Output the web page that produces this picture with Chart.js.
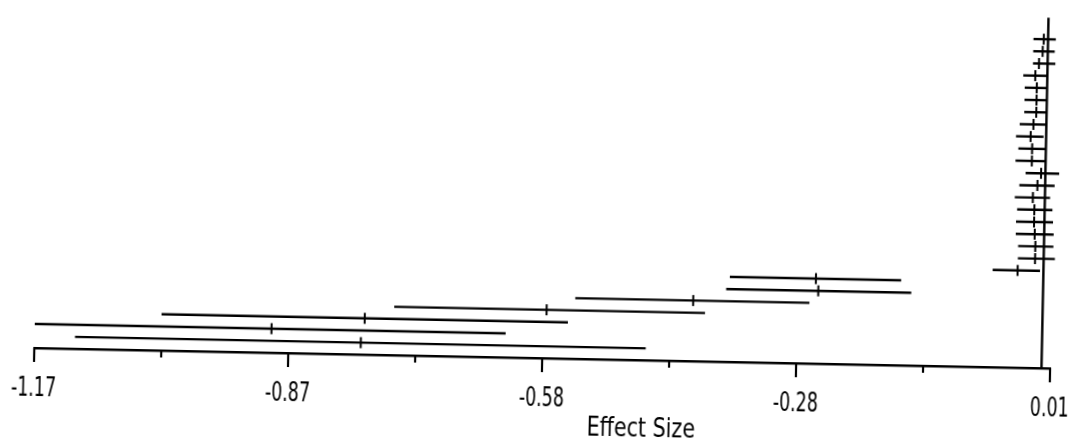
<!DOCTYPE html>
<html>
<head>
<meta charset="utf-8">
<script src="https://cdn.jsdelivr.net/npm/chart.js@4/dist/chart.umd.min.js"></script>
<style>
  html, body { margin: 0; padding: 0; background: #fff; overflow: hidden; }
  #sheet {
    position: relative;
    width: 1074px;
    height: 438px;
    transform: rotate(1.15deg);
    transform-origin: 537px 219px;
  }
  #chart { position: absolute; left: 0; top: 0; }
  #xTitle {
    position: absolute;
    left: 645px;
    top: 425px;
    transform: translate(-50%, -50%) scaleX(0.85);
    font-family: 'DejaVu Sans Condensed', sans-serif;
    font-size: 27px;
    color: #000;
    white-space: nowrap;
  }
</style>
</head>
<body>
<div id="sheet">
  <canvas id="chart" width="1074" height="438"></canvas>
  <div id="xTitle">Effect Size</div>
</div>
<script>
// one row per study, top to bottom
const rows = [1, 2, 3, 4, 5, 6, 7, 8, 9, 10, 11, 12, 13, 14, 15, 16, 17, 18, 19, 20, 21, 22, 23, 24, 25, 26, 27];
const effect = [
  -0.005, -0.006, -0.010, -0.014, -0.012, -0.012, -0.012, -0.015, -0.018, -0.016,
  -0.016, -0.005, -0.009, -0.014, -0.012, -0.012, -0.011, -0.010, -0.010, -0.030,
  -0.264, -0.261, -0.406, -0.576, -0.787, -0.895, -0.791
];
const lower = [
  -0.017, -0.017, -0.017, -0.028, -0.026, -0.026, -0.026, -0.031, -0.035, -0.032,
  -0.035, -0.023, -0.030, -0.035, -0.032, -0.033, -0.033, -0.030, -0.030, -0.059,
  -0.364, -0.368, -0.543, -0.753, -1.023, -1.170, -1.123
];
const upper = [
  0.009, 0.008, 0.009, 0.000, 0.000, 0.000, 0.000, 0.000, -0.003, 0.000,
  0.000, 0.016, 0.011, 0.006, 0.009, 0.010, 0.011, 0.011, 0.013, -0.004,
  -0.165, -0.153, -0.271, -0.392, -0.551, -0.623, -0.460
];
const tickValues = [-1.17, -1.0225, -0.875, -0.7275, -0.58, -0.4325, -0.285, -0.1375, 0.01];
const tickLabels = ['-1.17', '', '-0.87', '', '-0.58', '', '-0.28', '', '0.01'];

const ink = '#000';
const labelSqueeze = 0.72;
const rowTop = -0.77;
const rowBottom = 27.97;

const intervalSets = rows.map((row, i) => ({
  data: [{ x: lower[i], y: row }, { x: upper[i], y: row }],
  showLine: true,
  borderColor: ink,
  borderWidth: 2.4,
  pointRadius: 0,
  clip: false
}));

const zeroLine = {
  data: [{ x: 0, y: rowTop }, { x: 0, y: rowBottom }],
  showLine: true,
  borderColor: ink,
  borderWidth: 2.4,
  pointRadius: 0,
  clip: false
};

const estimateSet = {
  data: rows.map((row, i) => ({ x: effect[i], y: row })),
  pointStyle: 'line',
  rotation: 90,
  pointRadius: 5.5,
  borderColor: ink,
  borderWidth: 2,
  clip: false
};

// tick marks hang below the axis: long ones under labels, short ones between
const axisTicks = {
  id: 'axisTicks',
  afterDraw(chart) {
    const { ctx, chartArea, scales: { x } } = chart;
    ctx.save();
    ctx.strokeStyle = ink;
    ctx.lineWidth = 2.2;
    tickValues.forEach((v, i) => {
      const px = Math.round(x.getPixelForValue(v));
      const len = tickLabels[i] ? 14 : 7;
      ctx.beginPath();
      ctx.moveTo(px, chartArea.bottom);
      ctx.lineTo(px, chartArea.bottom + len);
      ctx.stroke();
    });
    ctx.restore();
  }
};

// the scanned labels use a narrow face; squeeze canvas text to match
const narrowText = {
  id: 'narrowText',
  beforeDraw(chart) {
    const fill = chart.ctx.fillText;
    chart.ctx.fillText = function (text, x, y) {
      return fill.call(this, text, x, y, this.measureText(text).width * labelSqueeze);
    };
  },
  afterDraw(chart) {
    delete chart.ctx.fillText;
  }
};

new Chart(document.getElementById('chart'), {
  type: 'scatter',
  data: { datasets: [zeroLine, ...intervalSets, estimateSet] },
  plugins: [axisTicks, narrowText],
  options: {
    responsive: false,
    animation: false,
    events: [],
    layout: { padding: { left: 37, right: 21, top: 5, bottom: 0 } },
    plugins: { legend: { display: false }, tooltip: { enabled: false } },
    scales: {
      x: {
        type: 'linear',
        min: tickValues[0],
        max: tickValues[tickValues.length - 1],
        afterBuildTicks: (scale) => { scale.ticks = tickValues.map((value) => ({ value })); },
        afterFit: (scale) => {
          scale.height = 80;
          scale.paddingLeft = 0;
          scale.paddingRight = 0;
        },
        grid: { display: false },
        border: { display: true, color: ink, width: 2.4 },
        ticks: {
          autoSkip: false,
          maxRotation: 0,
          padding: 17,
          color: ink,
          font: { family: "'DejaVu Sans Condensed', sans-serif", size: 27 },
          callback: (value, index) => tickLabels[index]
        }
      },
      y: {
        type: 'linear',
        display: false,
        reverse: true,
        min: rowTop,
        max: rowBottom
      }
    }
  }
});
</script>
</body>
</html>
